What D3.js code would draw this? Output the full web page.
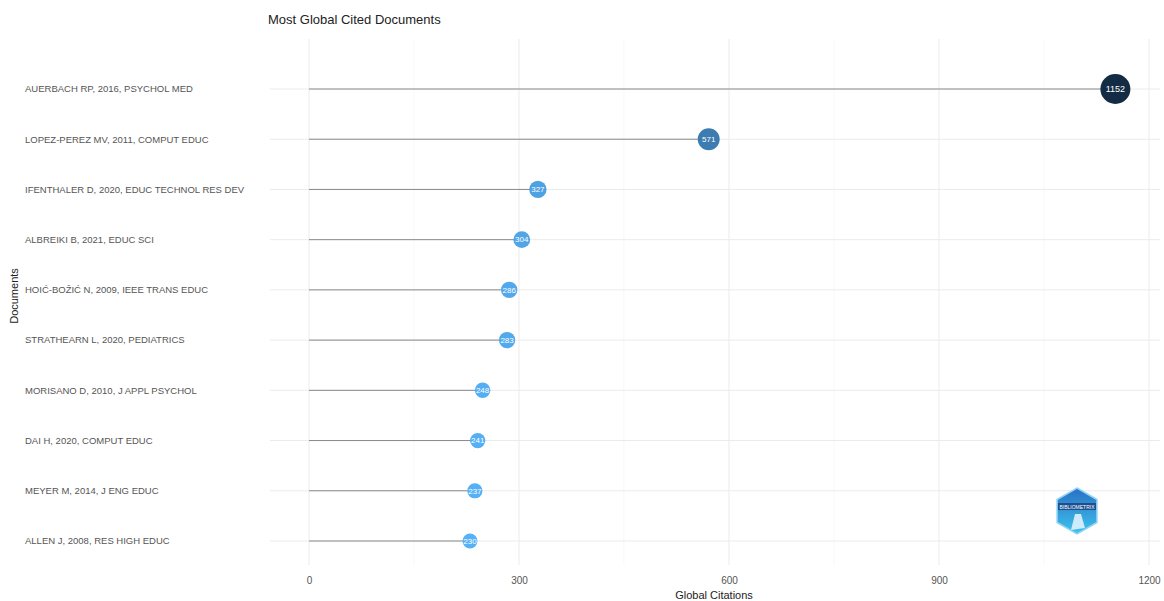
<!DOCTYPE html>
<html>
<head>
<meta charset="utf-8">
<script src="https://cdn.jsdelivr.net/npm/d3@7"></script>
<style>
  body { margin: 0; background: #fff; }
  text { font-family: "Liberation Sans", Arial, sans-serif; }
</style>
</head>
<body>
<div id="chart"></div>
<script>
// chart data
var documents = [
    "AUERBACH RP, 2016, PSYCHOL MED",
    "LOPEZ-PEREZ MV, 2011, COMPUT EDUC",
    "IFENTHALER D, 2020, EDUC TECHNOL RES DEV",
    "ALBREIKI B, 2021, EDUC SCI",
    "HOIĆ-BOŽIĆ N, 2009, IEEE TRANS EDUC",
    "STRATHEARN L, 2020, PEDIATRICS",
    "MORISANO D, 2010, J APPL PSYCHOL",
    "DAI H, 2020, COMPUT EDUC",
    "MEYER M, 2014, J ENG EDUC",
    "ALLEN J, 2008, RES HIGH EDUC"
];
var citations = [1152, 571, 327, 304, 286, 283, 248, 241, 237, 230];
var xTicks = [0, 300, 600, 900, 1200];

var svgWidth = 1164;
var svgHeight = 601;

var margin = {top: 39, right: 4, bottom: 36, left: 270};
var chartWidth = svgWidth - margin.left - margin.right;
var chartHeight = svgHeight - margin.top - margin.bottom;

var svg = d3.select("#chart")
    .append("svg")
    .attr("width", svgWidth)
    .attr("height", svgHeight);

var chartGroup = svg.append("g")
    .attr("transform", `translate(${margin.left}, ${margin.top})`);

// scales
var xScale = d3.scaleLinear()
    .domain([0, 1200])
    .range([39, 879]);

var yScale = d3.scalePoint()
    .domain(documents)
    .range([50, chartHeight - 24]);

var colorScale = d3.scaleLinear()
    .domain([d3.min(citations), d3.max(citations)])
    .range(["#56B1F7", "#132B43"])
    .interpolate(d3.interpolateLab);

var sizeScale = d3.scaleSqrt()
    .domain([d3.min(citations), d3.max(citations)])
    .range([7.5, 15]);

// grid
var minor = d3.range(150, 1200, 300);
chartGroup.selectAll(".minor")
    .data(minor).enter().append("line")
    .attr("x1", d => xScale(d)).attr("x2", d => xScale(d))
    .attr("y1", 0).attr("y2", chartHeight)
    .attr("stroke", "#f4f4f4").attr("stroke-width", 0.6);

chartGroup.selectAll(".major")
    .data(xTicks).enter().append("line")
    .attr("x1", d => xScale(d)).attr("x2", d => xScale(d))
    .attr("y1", 0).attr("y2", chartHeight)
    .attr("stroke", "#ebebeb").attr("stroke-width", 1);

chartGroup.selectAll(".hgrid")
    .data(documents).enter().append("line")
    .attr("x1", 0).attr("x2", chartWidth)
    .attr("y1", d => yScale(d)).attr("y2", d => yScale(d))
    .attr("stroke", "#ebebeb").attr("stroke-width", 1);

// x axis
var xAxis = chartGroup.append("g")
    .attr("transform", `translate(0, ${chartHeight})`)
    .call(d3.axisBottom(xScale).tickValues(xTicks).tickFormat(d3.format("d")).tickSize(0).tickPadding(12));
xAxis.select(".domain").remove();
xAxis.selectAll("text").attr("fill", "#555").attr("font-size", 10);

// y labels
chartGroup.selectAll(".ylab")
    .data(documents).enter().append("text")
    .attr("x", 25 - margin.left)
    .attr("y", d => yScale(d))
    .attr("dy", "0.35em")
    .attr("fill", "#555")
    .attr("font-size", 9.5)
    .text(d => d);

var rows = documents.map((d, i) => ({doc: d, val: citations[i]}));

// lollipop sticks
chartGroup.selectAll(".stick")
    .data(rows).enter().append("line")
    .attr("x1", xScale(0))
    .attr("x2", d => xScale(d.val))
    .attr("y1", d => yScale(d.doc))
    .attr("y2", d => yScale(d.doc))
    .attr("stroke", "#8a8a8a")
    .attr("stroke-width", 1);

// points
chartGroup.selectAll(".dot")
    .data(rows).enter().append("circle")
    .attr("cx", d => xScale(d.val))
    .attr("cy", d => yScale(d.doc))
    .attr("r", d => sizeScale(d.val))
    .attr("fill", d => colorScale(d.val));

chartGroup.selectAll(".dotlab")
    .data(rows).enter().append("text")
    .attr("x", d => xScale(d.val))
    .attr("y", d => yScale(d.doc))
    .attr("dy", "0.35em")
    .attr("text-anchor", "middle")
    .attr("fill", "#fff")
    .attr("font-size", d => d.val > 1000 ? 9 : 8)
    .text(d => d.val);

// titles
svg.append("text")
    .attr("x", 268).attr("y", 24)
    .attr("font-size", 13).attr("fill", "#222")
    .text("Most Global Cited Documents");

svg.append("text")
    .attr("x", margin.left + xScale(600) - 15).attr("y", 599)
    .attr("text-anchor", "middle")
    .attr("font-size", 11).attr("fill", "#222")
    .text("Global Citations");

svg.append("text")
    .attr("transform", "translate(18, 296) rotate(-90)")
    .attr("text-anchor", "middle")
    .attr("font-size", 11).attr("fill", "#222")
    .text("Documents");

// logo badge
var defs = svg.append("defs");
var grad = defs.append("linearGradient").attr("id", "lg")
    .attr("x1", 0).attr("y1", 0).attr("x2", 0).attr("y2", 1);
grad.append("stop").attr("offset", "0%").attr("stop-color", "#2a6fc4");
grad.append("stop").attr("offset", "100%").attr("stop-color", "#3ec4ee");

var hex = d3.range(6).map(i => {
    var a = Math.PI / 3 * i - Math.PI / 2;
    return [1077 + 23 * Math.cos(a), 511 + 23 * Math.sin(a)];
});
svg.append("polygon")
    .attr("points", hex.map(p => p.join(",")).join(" "))
    .attr("fill", "url(#lg)")
    .attr("stroke", "#8fd3f5").attr("stroke-width", 1.5);
svg.append("rect").attr("x", 1058).attr("y", 503).attr("width", 38).attr("height", 7)
    .attr("fill", "#1d4f8f");
svg.append("text").attr("x", 1077).attr("y", 509).attr("text-anchor", "middle")
    .attr("font-size", 5).attr("fill", "#fff").text("BIBLIOMETRIX");
svg.append("path").attr("d", "M1071,530 L1075,514 L1081,514 L1085,528 Z")
    .attr("fill", "#e8f6ff").attr("opacity", 0.85);
</script>
</body>
</html>
